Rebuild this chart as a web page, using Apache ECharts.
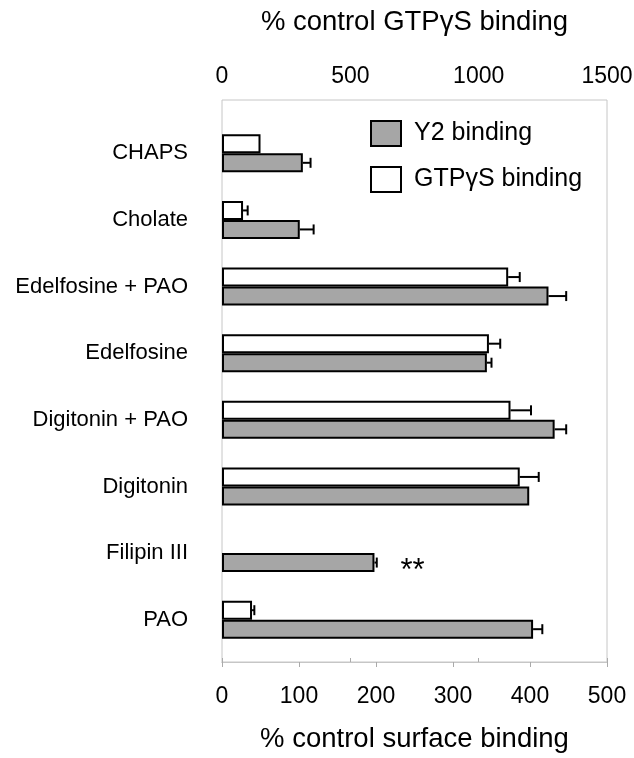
<!DOCTYPE html>
<html>
<head>
<meta charset="utf-8">
<script src="https://cdn.jsdelivr.net/npm/echarts@6/dist/echarts.min.js"></script>
<style>html,body{margin:0;padding:0;background:#fff;}#c{width:634px;height:758px;}</style>
</head>
<body>
<div id="c"></div>
<script>
const categories = ['CHAPS', 'Cholate', 'Edelfosine + PAO', 'Edelfosine', 'Digitonin + PAO', 'Digitonin', 'Filipin III', 'PAO'];
const y2Values = [105, 101, 424, 344, 432, 399, 198, 404];
const y2Errors = [10, 18, 23, 6, 15, 0, 3, 12];
const y2Notes = ['', '', '', '', '', '', '**', ''];
const gtpValues = [150, 82, 1115, 1040, 1124, 1160, null, 117];
const gtpErrors = [0, 18, 45, 44, 80, 74, 0, 9];
const surfaceTicks = { min: 0, max: 500, interval: 100 };
const gtpTicks = { min: 0, max: 1500, interval: 500 };

const FONT = 'Liberation Sans, Arial, sans-serif';
const BAR_W = 19;
const frameColor = '#c6c6c6';

function errData(vals, errs) {
  const out = [];
  vals.forEach((v, i) => { if (v != null && errs[i] > 0) out.push([v, errs[i], i]); });
  return out;
}
function errRenderer(off) {
  return function (params, api) {
    const v = api.value(0), e = api.value(1), i = api.value(2);
    const p0 = api.coord([v, i]);
    const p1 = api.coord([v + e, i]);
    const y = p0[1] + off;
    const st = { stroke: '#000', lineWidth: 2 };
    return {
      type: 'group',
      children: [
        { type: 'line', shape: { x1: p0[0], y1: y, x2: p1[0], y2: y }, style: st },
        { type: 'line', shape: { x1: p1[0], y1: y - 5, x2: p1[0], y2: y + 5 }, style: st }
      ]
    };
  };
}

const chart = echarts.init(document.getElementById('c'), null, { renderer: 'canvas' });
chart.setOption({
  animation: false,
  backgroundColor: '#fff',
  textStyle: { fontFamily: FONT },
  legend: {
    data: ['Y2 binding', 'GTPγS binding'],
    orient: 'vertical',
    left: 370, top: 120, padding: 0,
    icon: 'rect',
    itemWidth: 30, itemHeight: 25, itemGap: 19,
    itemStyle: { borderColor: '#000', borderWidth: 2 },
    textStyle: { fontSize: 25, color: '#000', fontFamily: FONT, padding: [0, 0, 0, 8] }
  },
  grid: [
    { left: 222, right: 27, top: 100, bottom: 96, show: true, borderColor: frameColor, borderWidth: 1, backgroundColor: 'transparent', containLabel: false, outerBoundsMode: 'none' },
    { left: 222, right: 27, top: 120, bottom: 105, containLabel: false, outerBoundsMode: 'none' }
  ],
  xAxis: [
    {
      gridIndex: 0, type: 'value', position: 'top',
      min: gtpTicks.min, max: gtpTicks.max, interval: gtpTicks.interval,
      name: '% control GTPγS binding', nameLocation: 'middle', nameGap: 64, nameMoveOverlap: false,
      nameTextStyle: { fontSize: 27.5, color: '#000', fontFamily: FONT },
      axisLine: { show: true, lineStyle: { color: frameColor } },
      axisTick: { show: true, length: 4, lineStyle: { color: '#aaa' } },
      axisLabel: { fontSize: 23, color: '#000', margin: 12, fontFamily: FONT, formatter: v => String(v) },
      splitLine: { show: false }
    },
    {
      gridIndex: 0, type: 'value', position: 'bottom',
      min: surfaceTicks.min, max: surfaceTicks.max, interval: surfaceTicks.interval,
      name: '% control surface binding', nameLocation: 'middle', nameGap: 63, nameMoveOverlap: false,
      nameTextStyle: { fontSize: 27.5, color: '#000', fontFamily: FONT },
      axisLine: { show: true, lineStyle: { color: frameColor } },
      axisTick: { show: true, length: 5, lineStyle: { color: '#aaa' } },
      axisLabel: { fontSize: 23, color: '#000', margin: 23, fontFamily: FONT, formatter: v => String(v) },
      splitLine: { show: false }
    },
    { gridIndex: 1, type: 'value', position: 'top', min: gtpTicks.min, max: gtpTicks.max, show: false },
    { gridIndex: 1, type: 'value', position: 'bottom', min: surfaceTicks.min, max: surfaceTicks.max, show: false }
  ],
  yAxis: [
    { gridIndex: 0, type: 'value', min: 0, max: 1, show: false },
    {
      gridIndex: 1, type: 'category', data: categories, inverse: true,
      axisLine: { show: false }, axisTick: { show: false },
      axisLabel: { fontSize: 22, color: '#000', margin: 34, fontFamily: FONT }
    }
  ],
  series: [
    {
      name: 'GTPγS binding', type: 'bar', xAxisIndex: 2, yAxisIndex: 1,
      barWidth: BAR_W, barGap: '0%',
      itemStyle: { color: '#ffffff', borderColor: '#000', borderWidth: 2 },
      data: gtpValues
    },
    {
      name: 'Y2 binding', type: 'bar', xAxisIndex: 3, yAxisIndex: 1,
      barWidth: BAR_W, barGap: '0%',
      itemStyle: { color: '#a6a6a6', borderColor: '#000', borderWidth: 2 },
      data: y2Values.map((v, i) => y2Notes[i] ? {
        value: v,
        label: { show: true, position: 'right', distance: 26, formatter: y2Notes[i], fontSize: 31, color: '#000', offset: [0, 9], fontFamily: FONT }
      } : v)
    },
    {
      type: 'custom', xAxisIndex: 2, yAxisIndex: 1, silent: true,
      renderItem: errRenderer(-BAR_W / 2),
      encode: { x: [0, 1], y: 2 },
      data: errData(gtpValues, gtpErrors), z: 3
    },
    {
      type: 'custom', xAxisIndex: 3, yAxisIndex: 1, silent: true,
      renderItem: errRenderer(BAR_W / 2),
      encode: { x: [0, 1], y: 2 },
      data: errData(y2Values, y2Errors), z: 3
    }
  ]
});
</script>
</body>
</html>
